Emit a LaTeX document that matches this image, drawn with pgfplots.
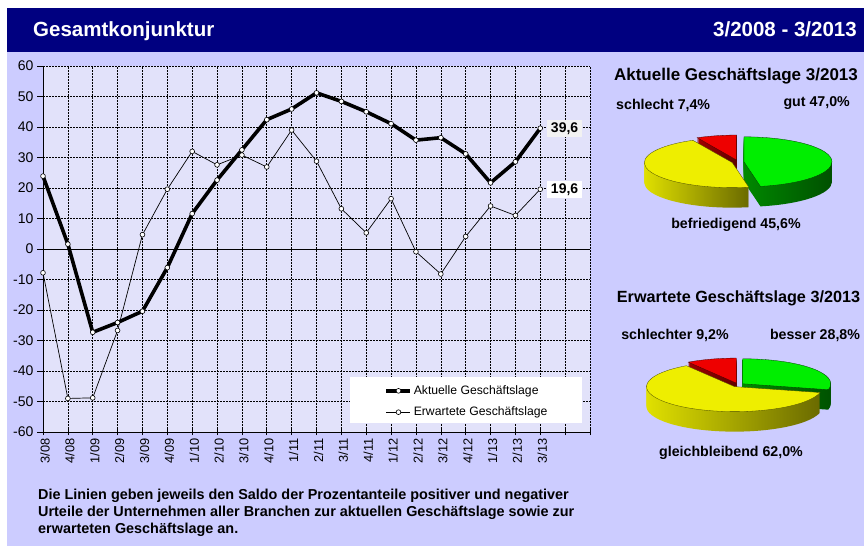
\documentclass[border=0pt]{standalone}
\usepackage{pgfplots}
\pgfplotsset{compat=1.18}
\usepackage{pgfplotstable}
\usepackage{fontspec}
\setmainfont{Liberation Sans}
\definecolor{navy}{HTML}{000080}
\definecolor{lav}{HTML}{CCCCFF}
\definecolor{plotbg}{HTML}{E2E2FA}
\definecolor{ytop}{HTML}{EEEE00}
\definecolor{yside}{HTML}{E6E600}
\definecolor{ysideR}{HTML}{6A6A00}
\definecolor{gtop}{HTML}{00EE00}
\definecolor{gside}{HTML}{008800}
\definecolor{gsideR}{HTML}{005000}
\definecolor{rtop}{HTML}{EE0000}
\definecolor{rside}{HTML}{A00000}
\definecolor{rsideR}{HTML}{600000}

\pgfplotstableread{
x akt erw
0 23.9 -7.8
1 1.6 -49.0
2 -27.3 -48.8
3 -24.1 -26.7
4 -20.4 4.7
5 -6.1 19.6
6 11.6 32.0
7 22.6 27.6
8 32.5 30.8
9 42.4 26.9
10 45.9 39.0
11 51.2 28.8
12 48.4 13.2
13 45.0 5.3
14 41.1 16.5
15 35.7 -0.9
16 36.5 -8.2
17 31.2 4.1
18 21.7 14.1
19 28.6 11.0
20 39.6 19.6
}\data

% pie shares (percent)
\pgfplotstableread{
share pct
gut 47.0
befriedigend 45.6
schlecht 7.4
}\pieA
\pgfplotstableread{
share pct
besser 28.8
gleichbleibend 62.0
schlechter 9.2
}\pieB

% #1 start angle, #2 end angle, #3 top colour, #4 side left, #5 side right, #6 bisector
\newcommand{\pieslice}[6]{%
  \begin{scope}[xshift={6*cos(#6)}, yshift={2*sin(#6)}]
    \foreach \d in {20,...,1}{%
      \shade[left color=#4, right color=#5] (0,-\d) -- ({88*cos(#1)},{25*sin(#1)-\d}) arc[start angle=#1, end angle=#2, x radius=88pt, y radius=25pt] -- cycle;
    }
    \fill[#3, draw=#5!70!black, line width=0.3pt] (0,0) -- ({88*cos(#1)},{25*sin(#1)}) arc[start angle=#1, end angle=#2, x radius=88pt, y radius=25pt] -- cycle;
  \end{scope}}

\begin{document}
\begin{tikzpicture}
\useasboundingbox (0pt,0pt) rectangle (864pt,-546pt);
\fill[lav] (7pt,-8pt) rectangle (864pt,-546pt);
\fill[navy] (7pt,-8pt) rectangle (864pt,-52pt);
\node[anchor=base west, inner sep=0pt, text=white, font=\bfseries\fontsize{20.5}{24}\selectfont] at (33pt,-36pt) {Gesamtkonjunktur};
\node[anchor=base east, inner sep=0pt, text=white, font=\bfseries\fontsize{20.5}{24}\selectfont] at (857pt,-36pt) {3/2008 - 3/2013};

\begin{axis}[
  at={(43pt,-432pt)}, anchor=south west,
  scale only axis, width=547pt, height=366pt,
  xmin=0, xmax=22, ymin=-60, ymax=60,
  axis lines=left, axis line style={-, line width=0.8pt, black},
  axis background/.style={fill=plotbg},
  xtick={0,...,22},
  xticklabels={3/08,4/08,1/09,2/09,3/09,4/09,1/10,2/10,3/10,4/10,1/11,2/11,3/11,4/11,1/12,2/12,3/12,4/12,1/13,2/13,3/13,{}},
  ytick={-60,-50,...,60},
  grid=major,
  major grid style={black, dash pattern=on 2pt off 1pt, line width=0.6pt},
  xtick align=center, ytick align=outside,
  major tick length=6pt,
  tick style={black, line width=0.6pt},
  xticklabel style={rotate=90, anchor=east, yshift=-2pt, font=\fontsize{12.8}{14}\selectfont},
  yticklabel style={font=\fontsize{14}{16}\selectfont},
  /pgf/number format/assume math mode=true,
  legend cell align=left,
  legend style={at={(rel axis cs:0.6243,0.0833)}, anchor=west, fill=none, draw=none,
    font=\fontsize{12.2}{14}\selectfont, inner sep=0pt, row sep=7pt,
    nodes={inner xsep=1.5pt, inner ysep=2pt}},
  legend image code/.code={\draw[mark repeat=2, mark phase=2, #1] plot coordinates {(0pt,0pt) (12pt,0pt) (24pt,0pt)};},
  clip=false,
]
\fill[white] (rel axis cs:0.561,0.0246) rectangle (rel axis cs:0.9854,0.150);
\draw[black, line width=0.9pt] (axis cs:0,0) -- (axis cs:22,0);
\addplot[black, line width=3.6pt, mark=*, mark size=2.4pt, mark options={fill=white, draw=black, line width=0.6pt}] table[x=x, y=akt] {\data};
\addlegendentry{Aktuelle Geschäftslage}
\addplot[black, line width=0.7pt, mark=*, mark size=2.4pt, mark options={fill=white, draw=black, line width=0.6pt}] table[x=x, y=erw] {\data};
\addlegendentry{Erwartete Geschäftslage}
\node[anchor=west, xshift=6.5pt, fill=black!5, inner xsep=4pt, inner ysep=2.5pt, font=\bfseries\fontsize{14}{16}\selectfont] at (axis cs:20,39.6) {39,6};
\node[anchor=west, xshift=6.5pt, fill=white, inner xsep=4pt, inner ysep=2.5pt, font=\bfseries\fontsize{14}{16}\selectfont] at (axis cs:20,19.6) {19,6};
\end{axis}

% Pie 1: Aktuelle Geschaeftslage  (gut 47.0, befriedigend 45.6, schlecht 7.4)
\begin{axis}[at={(738pt,-162pt)}, anchor=center, hide axis, scale only axis,
  x=1pt, y=1pt, xmin=-100, xmax=100, ymin=-50, ymax=50, clip=false]
\pgfplotsextra{%
  \pieslice{-243.36}{-270}{rtop}{rside}{rsideR}{-256.68}
  \pieslice{90}{-79.2}{gtop}{gside}{gsideR}{5.4}
  \pieslice{-79.2}{-243.36}{ytop}{yside}{ysideR}{-161.28}
}
\end{axis}

% Pie 2: Erwartete Geschaeftslage (besser 28.8, gleichbleibend 62.0, schlechter 9.2)
\begin{axis}[at={(738pt,-385pt)}, anchor=center, hide axis, scale only axis,
  x=1pt, y=1pt, xmin=-100, xmax=100, ymin=-50, ymax=50, clip=false]
\pgfplotsextra{%
  \pieslice{-236.88}{-270}{rtop}{rside}{rsideR}{-253.44}
  \pieslice{90}{-13.68}{gtop}{gside}{gsideR}{38.16}
  \pieslice{-13.68}{-236.88}{ytop}{yside}{ysideR}{-125.28}
}
\end{axis}

\begin{scope}[every node/.style={inner sep=0pt, font=\bfseries\fontsize{14.2}{16}\selectfont}]
\node[font=\bfseries\fontsize{17}{20}\selectfont] at (736pt,-76pt) {Aktuelle Geschäftslage 3/2013};
\node[anchor=west] at (616pt,-105pt) {schlecht 7,4\%};
\node[anchor=east] at (850pt,-103pt) {gut 47,0\%};
\node at (736pt,-225pt) {befriedigend 45,6\%};
\node[font=\bfseries\fontsize{16.2}{19}\selectfont] at (738.5pt,-298pt) {Erwartete Geschäftslage 3/2013};
\node at (675pt,-335pt) {schlechter 9,2\%};
\node at (815pt,-335pt) {besser 28,8\%};
\node at (731pt,-453pt) {gleichbleibend 62,0\%};
\end{scope}

\node[anchor=north west, inner sep=0pt, align=left, font=\bfseries\fontsize{14.4}{17}\selectfont] at (38pt,-489pt)
 {Die Linien geben jeweils den Saldo der Prozentanteile positiver und negativer\\
  Urteile der Unternehmen aller Branchen zur aktuellen Geschäftslage sowie zur\\
  erwarteten Geschäftslage an.};
\end{tikzpicture}
\end{document}
